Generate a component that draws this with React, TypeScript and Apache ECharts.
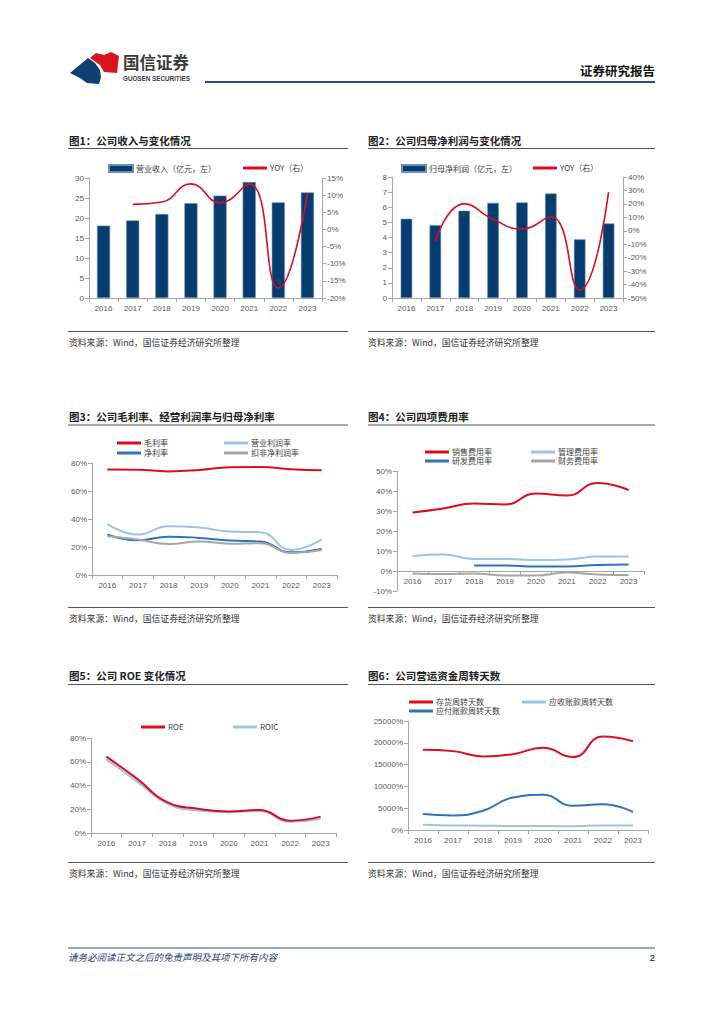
import React, { useEffect, useRef } from "react";
import * as echarts from "echarts";

// ---------------- data ----------------
const years = ["2016", "2017", "2018", "2019", "2020", "2021", "2022", "2023"];

// 图1
const revenue = [18.1, 19.4, 21.0, 23.7, 25.6, 29.0, 23.9, 26.4];
const revenueYoy = [null, 7.3, 8.0, 13.3, 7.8, 13.3, -17.1, 10.5];
// 图2
const netProfit = [5.24, 4.82, 5.77, 6.29, 6.32, 6.91, 3.88, 4.93];
const netProfitYoy = [null, -7.6, 20.0, 8.5, 1.3, 10.4, -44.0, 28.7];
// 图3
const grossMargin = [75.4, 75.2, 74.0, 75.0, 77.0, 77.2, 75.5, 74.8];
const operatingMargin = [36.5, 28.9, 34.8, 33.9, 31.0, 30.5, 17.9, 25.5];
const netMargin = [28.9, 24.8, 27.4, 26.5, 24.6, 23.9, 16.2, 18.6];
const deductedNetMargin = [27.9, 25.3, 22.2, 23.9, 22.4, 22.7, 15.8, 17.9];
// 图4
const sellingExpRate = [29.2, 31.3, 33.7, 33.3, 38.7, 37.7, 44.0, 40.5];
const adminExpRate = [7.5, 8.2, 6.0, 6.0, 5.5, 5.8, 7.2, 7.2];
const rdExpRate = [null, null, 2.8, 2.8, 2.2, 2.2, 3.0, 3.2];
const financeExpRate = [-1.2, -1.5, -1.2, -2.3, -2.3, -0.8, -1.7, -2.0];
// 图5
const roe = [64.3, 45.8, 25.8, 20.5, 18.2, 19.4, 10.4, 13.8];
const roic = [62.0, 43.5, 24.5, 19.0, 17.5, 18.5, 9.5, 12.0];
// 图6
const inventoryDays = [18390, 18090, 16870, 17400, 18840, 16720, 21430, 20360];
const receivableDays = [1220, 1060, 990, 910, 910, 840, 1060, 1060];
const payableDays = [3650, 3340, 4410, 7450, 8060, 5550, 5930, 4100];

// tick label formatters
const pctFmt = (v: number) => `${v}%`;
const numFmt = (v: number) => `${v}`;

// ---------------- styles ----------------
const FONT = '"Liberation Sans", "Noto Sans CJK SC", sans-serif';
const CJK = '"Noto Sans CJK SC", "Liberation Sans", sans-serif';
const RED = "#dc0d1e";
const LBLUE = "#9dc3e6";
const BLUE = "#2e75b6";
const GRAY = "#a6a6a6";
const NAVY = "#063c6f";
const AXIS = "#a6a6a6";
const LABEL = "#595959";

const grids = [
  { left: 89, top: 178, width: 233, height: 120 },
  { left: 392, top: 177, width: 231, height: 121 },
  { left: 92, top: 463, width: 245, height: 112 },
  { left: 397, top: 471, width: 247, height: 120 },
  { left: 91, top: 738, width: 245, height: 95 },
  { left: 408, top: 721, width: 240, height: 109 },
];

function catAxis(gridIndex: number, offset = 0) {
  return {
    type: "category",
    gridIndex,
    data: years,
    boundaryGap: true,
    offset,
    axisLine: { show: true, onZero: false, lineStyle: { color: AXIS, width: 1 } },
    axisTick: { show: true, length: 4, lineStyle: { color: AXIS } },
    axisLabel: { color: LABEL, fontSize: 8, margin: 6, fontFamily: FONT },
    splitLine: { show: false },
  };
}

function valAxis(
  gridIndex: number,
  min: number,
  max: number,
  interval: number,
  formatter: any,
  position = "left"
) {
  return {
    type: "value",
    gridIndex,
    min,
    max,
    interval,
    position,
    axisLine: { show: true, onZero: false, lineStyle: { color: AXIS, width: 1 } },
    axisTick: { show: true, length: 4, lineStyle: { color: AXIS } },
    axisLabel: { color: LABEL, fontSize: 8, margin: 5, fontFamily: FONT, formatter },
    splitLine: { show: false },
  };
}

function lineSeries(name: string, data: any[], color: string, xi: number, yi: number, width = 2) {
  return {
    type: "line",
    name,
    data,
    xAxisIndex: xi,
    yAxisIndex: yi,
    smooth: 0.5,
    showSymbol: false,
    symbol: "none",
    connectNulls: false,
    lineStyle: { color, width },
    itemStyle: { color },
    z: 3,
  };
}

function legendItem(name: string, x: number, y: number, kind: "bar" | "line") {
  return {
    data: [name],
    left: x,
    top: y - 5,
    padding: 0,
    itemWidth: 24,
    itemHeight: kind === "bar" ? 7 : 3,
    icon: "rect",
    selectedMode: false,
    textStyle: { fontSize: 8, color: "#404040", fontFamily: CJK, padding: [0, 0, 0, -2] },
  };
}

function txt(text: string, x: number, y: number, o: any = {}) {
  return {
    type: "text",
    x,
    y,
    silent: true,
    style: {
      text,
      fontSize: o.size || 9,
      fontWeight: o.weight || "normal",
      fontStyle: o.style || "normal",
      fontFamily: o.family || CJK,
      fill: o.color || "#222",
      textAlign: o.align || "left",
      textVerticalAlign: "middle",
    },
  };
}

function hline(x1: number, x2: number, y: number, color: string, w: number) {
  return {
    type: "line",
    silent: true,
    shape: { x1, y1: y, x2, y2: y },
    style: { stroke: color, lineWidth: w },
  };
}

const SOURCE = "资料来源：Wind，国信证券经济研究所整理";

function buildOption() {
  const graphic: any[] = [
    // logo
    {
      type: "polygon",
      silent: true,
      shape: { points: [[70, 73], [88, 58], [95, 63], [100, 70], [101, 77], [99, 84], [87, 83], [80, 78]] },
      style: { fill: "#0f3f73" },
    },
    {
      type: "polygon",
      silent: true,
      shape: { points: [[90, 58], [96, 53], [104, 55], [111, 52], [119, 56], [117, 73], [104, 72], [100, 65]] },
      style: { fill: "#d7141f" },
    },
    txt("国信证券", 123, 62, { size: 16.5, weight: "bold", color: "#3a3a3a" }),
    txt("GUOSEN SECURITIES", 123, 78, { size: 6.3, weight: "bold", color: "#3a3a3a", family: FONT }),
    txt("证券研究报告", 655, 70, { size: 12.5, weight: "bold", color: "#111", align: "right" }),
    hline(205, 655, 82, "#1f4e8c", 2),

    // titles
    txt("图1：公司收入与变化情况", 69, 140, { size: 10.5, weight: "bold" }),
    hline(68, 348, 148.5, "#555", 1),
    txt("图2：公司归母净利润与变化情况", 368, 140, { size: 10.5, weight: "bold" }),
    hline(368, 655, 148.5, "#555", 1),
    txt("图3：公司毛利率、经营利润率与归母净利率", 69, 416, { size: 10.5, weight: "bold" }),
    hline(68, 348, 425, "#555", 1),
    txt("图4：公司四项费用率", 368, 416, { size: 10.5, weight: "bold" }),
    hline(368, 655, 425, "#555", 1),
    txt("图5：公司 ROE 变化情况", 69, 675, { size: 10.5, weight: "bold" }),
    hline(68, 348, 684.5, "#555", 1),
    txt("图6：公司营运资金周转天数", 368, 675, { size: 10.5, weight: "bold" }),
    hline(368, 655, 684.5, "#555", 1),

    // sources
    hline(68, 348, 331.5, "#555", 1),
    txt(SOURCE, 69, 342, { size: 8.8, color: "#333" }),
    hline(368, 655, 331.5, "#555", 1),
    txt(SOURCE, 368, 342, { size: 8.8, color: "#333" }),
    hline(68, 348, 607.5, "#555", 1),
    txt(SOURCE, 69, 618, { size: 8.8, color: "#333" }),
    hline(368, 655, 607.5, "#555", 1),
    txt(SOURCE, 368, 618, { size: 8.8, color: "#333" }),
    hline(68, 348, 862.5, "#555", 1),
    txt(SOURCE, 69, 873, { size: 8.8, color: "#333" }),
    hline(368, 655, 862.5, "#555", 1),
    txt(SOURCE, 368, 873, { size: 8.8, color: "#333" }),

    // footer
    hline(68, 655, 948, "#2f5597", 1),
    txt("请务必阅读正文之后的免责声明及其项下所有内容", 68, 957, { size: 9.5, style: "italic", color: "#1f3f75" }),
    txt("2", 655, 957, { size: 9.5, color: "#111", align: "right", family: FONT }),
  ];

  const xAxis = grids.map((_, i) => catAxis(i, i === 3 ? -20 : 0));
  const yAxis = [
    valAxis(0, 0, 30, 5, numFmt),
    valAxis(0, -20, 15, 5, pctFmt, "right"),
    valAxis(1, 0, 8, 1, numFmt),
    valAxis(1, -50, 40, 10, pctFmt, "right"),
    valAxis(2, 0, 80, 20, pctFmt),
    valAxis(3, -10, 50, 10, pctFmt),
    valAxis(4, 0, 80, 20, pctFmt),
    valAxis(5, 0, 25000, 5000, pctFmt),
  ];

  const series: any[] = [
    {
      type: "bar",
      name: "营业收入（亿元，左）",
      data: revenue,
      xAxisIndex: 0,
      yAxisIndex: 0,
      barWidth: "45%",
      itemStyle: { color: NAVY, borderColor: "#6d8fb3", borderWidth: 0.6 },
    },
    lineSeries("YOY（右）", revenueYoy, RED, 0, 1, 1.6),
    {
      type: "bar",
      name: "归母净利润（亿元，左）",
      data: netProfit,
      xAxisIndex: 1,
      yAxisIndex: 2,
      barWidth: "40%",
      itemStyle: { color: NAVY, borderColor: "#6d8fb3", borderWidth: 0.6 },
    },
    lineSeries("YOY（右）", netProfitYoy, RED, 1, 3, 1.6),
    lineSeries("毛利率", grossMargin, RED, 2, 4),
    lineSeries("营业利润率", operatingMargin, LBLUE, 2, 4),
    lineSeries("净利率", netMargin, BLUE, 2, 4),
    lineSeries("扣非净利润率", deductedNetMargin, GRAY, 2, 4),
    lineSeries("销售费用率", sellingExpRate, RED, 3, 5),
    lineSeries("管理费用率", adminExpRate, LBLUE, 3, 5),
    lineSeries("研发费用率", rdExpRate, BLUE, 3, 5),
    lineSeries("财务费用率", financeExpRate, GRAY, 3, 5),
    lineSeries("ROIC", roic, LBLUE, 4, 6),
    lineSeries("ROE", roe, RED, 4, 6),
    lineSeries("存货周转天数", inventoryDays, RED, 5, 7),
    lineSeries("应收账款周转天数", receivableDays, LBLUE, 5, 7),
    lineSeries("应付账款周转天数", payableDays, BLUE, 5, 7),
  ];

  const legend = [
    legendItem("营业收入（亿元，左）", 108, 169, "bar"),
    legendItem("YOY（右）", 243, 169, "line"),
    legendItem("归母净利润（亿元，左）", 401, 169, "bar"),
    legendItem("YOY（右）", 533, 169, "line"),
    legendItem("毛利率", 117, 444, "line"),
    legendItem("营业利润率", 224, 444, "line"),
    legendItem("净利率", 117, 454, "line"),
    legendItem("扣非净利润率", 224, 454, "line"),
    legendItem("销售费用率", 425, 453, "line"),
    legendItem("管理费用率", 531, 453, "line"),
    legendItem("研发费用率", 425, 462, "line"),
    legendItem("财务费用率", 531, 462, "line"),
    legendItem("ROE", 141, 728, "line"),
    legendItem("ROIC", 233, 728, "line"),
    legendItem("存货周转天数", 409, 703, "line"),
    legendItem("应收账款周转天数", 522, 703, "line"),
    legendItem("应付账款周转天数", 409, 712, "line"),
  ];

  return {
    animation: false,
    backgroundColor: "#ffffff",
    textStyle: { fontFamily: FONT },
    grid: grids.map((g) => ({ ...g, containLabel: false })),
    xAxis,
    yAxis,
    series,
    legend,
    graphic: { elements: graphic },
  };
}

export default function App() {
  const ref = useRef<HTMLDivElement>(null);
  useEffect(() => {
    if (!ref.current) return;
    const chart = echarts.init(ref.current, null as any, { renderer: "svg" });
    chart.setOption(buildOption() as any);
    return () => chart.dispose();
  }, []);
  return (
    <div
      style={{
        position: "absolute",
        left: 0,
        top: 0,
        width: 724,
        height: 1024,
        background: "#fff",
      }}
    >
      <div ref={ref} style={{ width: 724, height: 1024 }} />
    </div>
  );
}
